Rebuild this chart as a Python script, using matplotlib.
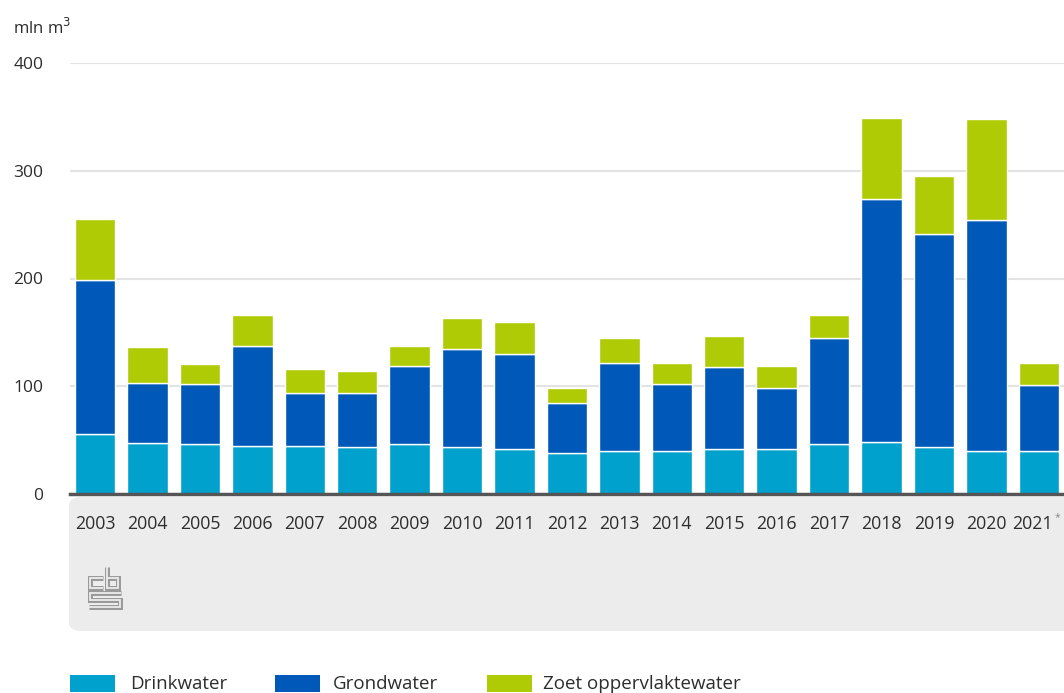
import matplotlib
matplotlib.use("Agg")
import matplotlib.pyplot as plt
from matplotlib.patches import FancyBboxPatch, Rectangle
from matplotlib.lines import Line2D
from matplotlib.transforms import ScaledTranslation
import matplotlib.patheffects as pe
import numpy as np

plt.rcParams['font.family'] = ['Open Sans', 'DejaVu Sans']

years = ["2003", "2004", "2005", "2006", "2007", "2008", "2009", "2010", "2011",
         "2012", "2013", "2014", "2015", "2016", "2017", "2018", "2019", "2020", "2021*"]
drinkwater = [56, 47, 46, 45, 45, 44, 46, 44, 42, 38, 40, 40, 42, 42, 46, 48, 44, 40, 40]
grondwater = [143, 56, 56, 92, 49, 50, 73, 91, 88, 46, 82, 62, 76, 56, 99, 226, 197, 214, 61]
zoet_opp = [56, 33, 19, 29, 22, 20, 18, 28, 30, 14, 23, 20, 29, 21, 21, 75, 54, 94, 21]
series_names = ["Drinkwater", "Grondwater", "Zoet oppervlaktewater"]
colors = ["#00a1cd", "#0058b8", "#afcb05"]
yticks = [0, 100, 200, 300, 400]

W, H = 1064, 693
fig = plt.figure(figsize=(W / 100, H / 100), dpi=100)
text_col = "#2d2d2d"

def fx(px):
    return px / W

def fy(py):
    return 1 - py / H

# gray panel under x-axis
panel = FancyBboxPatch((fx(69), fy(631)), fx(1090) - fx(69), fy(497) - fy(631),
                       boxstyle="round,pad=0,rounding_size=0.012",
                       transform=fig.transFigure, facecolor="#ececec",
                       edgecolor="none", zorder=-5)
fig.patches.append(panel)

ax = fig.add_axes([fx(70), fy(494), fx(1064) - fx(70), fy(63) - fy(494)])
ax.set_facecolor("none")
ax.set_zorder(2)
x = np.arange(len(years))
bottom = np.zeros(len(years))
for vals, c in zip([drinkwater, grondwater, zoet_opp], colors):
    ax.bar(x, vals, bottom=bottom, width=0.77, color=c, edgecolor="white",
           linewidth=1.0, zorder=3)
    bottom += np.array(vals)

ax.set_ylim(0, 400)
ax.set_xlim(-0.477, 18.48)
ax.set_yticks(yticks)
ax.set_yticklabels([str(v) for v in yticks], fontweight="medium")
ax.yaxis.grid(True, color="#e3e3e3", linewidth=1.5, zorder=0)
ax.set_axisbelow(True)
for s in ["top", "right", "left"]:
    ax.spines[s].set_visible(False)
ax.spines["bottom"].set_color("#555555")
ax.spines["bottom"].set_linewidth(2.5)
ax.spines["bottom"].set_zorder(5)
ax.tick_params(axis="y", length=0, pad=19, labelsize=12.5, labelcolor=text_col)
ax.tick_params(axis="x", length=0, pad=15, labelsize=12.8, labelcolor=text_col)
ax.set_xticks(x)
labels = [y.rstrip("*") for y in years]
ticklabels = ax.set_xticklabels(labels, fontweight="medium")
for i, y in enumerate(years):
    if y.endswith("*"):
        lab = ticklabels[i]
        lab.set_transform(lab.get_transform() +
                          ScaledTranslation(-6 / 100, 0, fig.dpi_scale_trans))
        ax.annotate("*", xy=(i, 0), xycoords=("data", "axes fraction"),
                    xytext=(11.5, -17), textcoords="offset points",
                    fontsize=7.5, color="#8a8a8a", ha="left", va="center")

fig.text(fx(13), fy(28), "mln m$^3$", fontsize=12, color=text_col,
         ha="left", va="center", fontweight="medium")

# CBS logo (stylised outline)
logo_col = "#9a9a9a"
eff = [pe.Stroke(linewidth=3.6, foreground=logo_col),
       pe.Stroke(linewidth=1.3, foreground="#ececec"), pe.Normal()]
def seg(pts):
    xs = [fx(p[0]) for p in pts]
    ys = [fy(p[1]) for p in pts]
    ln = Line2D(xs, ys, transform=fig.transFigure, color="#ececec", linewidth=0.1,
                solid_capstyle="butt", solid_joinstyle="miter", path_effects=eff)
    fig.lines.append(ln)
seg([(103, 578), (90, 578), (90, 588), (103, 588)])          # c
seg([(107, 567), (107, 588), (118, 588), (118, 578), (107, 578)])  # b
seg([(121, 593), (90, 593), (90, 600), (120, 600), (120, 607), (89, 607)])  # s

# legend
leg_x = [(70, 130), (275, 333), (487, 543)]
for (px, tx), name, c in zip(leg_x, series_names, colors):
    fig.patches.append(Rectangle((fx(px), fy(692)), fx(45), fy(675) - fy(692),
                                 transform=fig.transFigure, facecolor=c,
                                 edgecolor="none"))
    fig.text(fx(tx), fy(684), name, fontsize=13.5, color=text_col,
             ha="left", va="center", fontweight="medium")

fig.savefig("out.png", dpi=100)
